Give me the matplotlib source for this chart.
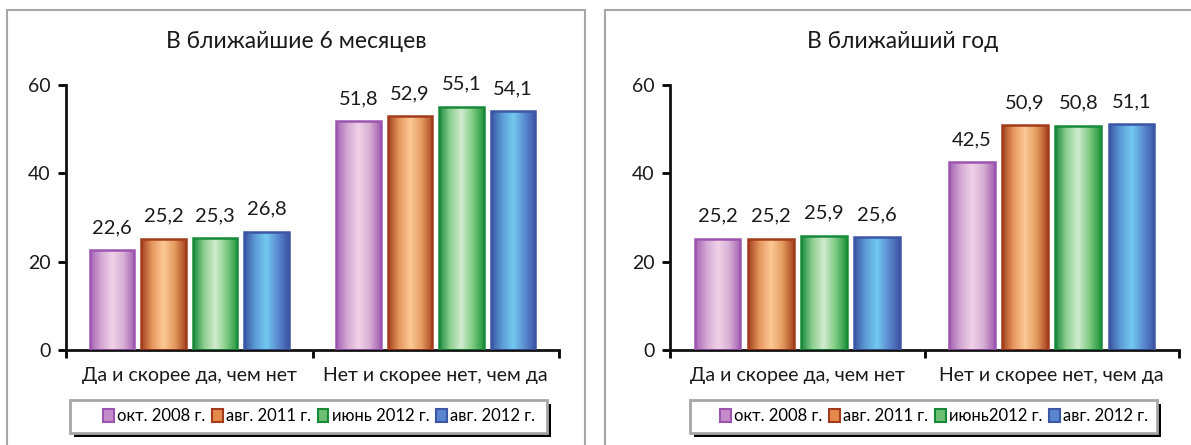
import numpy as np
import matplotlib
matplotlib.use("Agg")
import matplotlib.pyplot as plt
from matplotlib.colors import LinearSegmentedColormap
from matplotlib.patches import Rectangle

categories = ["Да и скорее да, чем нет", "Нет и скорее нет, чем да"]
titles = ["В ближайшие 6 месяцев", "В ближайший год"]
series_left = ["окт. 2008 г.", "авг. 2011 г.", "июнь 2012 г.", "авг. 2012 г."]
series_right = ["окт. 2008 г.", "авг. 2011 г.", "июнь2012 г.", "авг. 2012 г."]
values_6m = [[22.6, 51.8], [25.2, 52.9], [25.3, 55.1], [26.8, 54.1]]
values_1y = [[25.2, 42.5], [25.2, 50.9], [25.9, 50.8], [25.6, 51.1]]
yticks = [0, 20, 40, 60]

# edge colour + horizontal gradient stops (left -> right) for each series
edge_colors = ["#9b55b0", "#a23a1c", "#178a3a", "#3a56a5"]
grad_stops = [
    ["#a462b3", "#d4a8d3", "#f0d2e8", "#d8b0d4", "#a35fb1"],
    ["#a3411e", "#e7985f", "#fcc995", "#e59c60", "#a9461f"],
    ["#1b8a3c", "#8fd092", "#d2ecd0", "#7fcb83", "#23963f"],
    ["#3b55a3", "#5c9cd6", "#72caf1", "#5b8cd0", "#3d55a5"],
]
legend_face = ["#c48ccb", "#e58a4d", "#6cbf72", "#5a86cf"]

plt.rcParams["font.family"] = ["Lato", "Noto Sans", "DejaVu Sans"]

W, H = 1191, 445
fig = plt.figure(figsize=(W / 100, H / 100), dpi=100)


def fx(px):
    return px / W


def fy(py):
    return 1 - py / H


def panel(ax_rect, frame_rect, legend_box, legend_center, title, values, labels):
    # outer grey frame of the panel
    x0, y0, x1, y1 = frame_rect
    fig.patches.append(Rectangle((fx(x0), fy(y1)), fx(x1 - x0), (y1 - y0) / H,
                                 transform=fig.transFigure, fill=False,
                                 edgecolor="#a6a6a6", linewidth=1.5))
    fig.text(fx((x0 + x1) / 2), fy(42), title, fontsize=16.5, color="#1a1a1a",
             ha="center", va="center")
    ax = fig.add_axes(ax_rect)
    n = len(values)
    pitch = 0.209
    width = 0.18
    xs = np.arange(len(categories)) + 0.5
    for i in range(n):
        pos = xs + (i - (n - 1) / 2) * pitch
        bars = ax.bar(pos, values[i], width=width, facecolor="none",
                      edgecolor=edge_colors[i], linewidth=1.8, zorder=3)
        cmap = LinearSegmentedColormap.from_list("g%d" % i, grad_stops[i])
        grad = np.linspace(0, 1, 128)[None, :]
        for b, v in zip(bars, values[i]):
            im = ax.imshow(grad, cmap=cmap, aspect="auto", zorder=2,
                           extent=[b.get_x(), b.get_x() + b.get_width(), 0, v])
            im.set_clip_path(b)
            ax.annotate(("%.1f" % v).replace(".", ","), (b.get_x() + b.get_width() / 2, v),
                        xytext=(0, 10), textcoords="offset points", ha="center",
                        va="bottom", fontsize=14.5, color="#1a1a1a", clip_on=False)
    ax.set_xlim(0, len(categories))
    ax.set_ylim(0, 60)
    ax.set_yticks(yticks)
    ax.set_yticklabels([str(t) for t in yticks], fontsize=14, color="#1a1a1a")
    ax.set_xticks(xs)
    ax.set_xticklabels(categories, fontsize=14, color="#1a1a1a")
    ax.set_xticks(np.arange(len(categories) + 1), minor=True)
    ax.tick_params(axis="x", which="major", length=0, pad=12)
    ax.tick_params(axis="x", which="minor", length=6, width=2, direction="out")
    ax.tick_params(axis="y", length=6, width=2, direction="out", pad=5)
    for s in ["top", "right"]:
        ax.spines[s].set_visible(False)
    for s in ["left", "bottom"]:
        ax.spines[s].set_linewidth(2)
        ax.spines[s].set_color("#111111")

    # legend box with black shadow
    lx0, ly0, lx1, ly1 = legend_box
    fig.patches.append(Rectangle((fx(lx0 + 4), fy(ly1 + 4)), fx(lx1 - lx0), (ly1 - ly0) / H,
                                 transform=fig.transFigure, facecolor="black",
                                 edgecolor="none", zorder=5))
    fig.patches.append(Rectangle((fx(lx0), fy(ly1)), fx(lx1 - lx0), (ly1 - ly0) / H,
                                 transform=fig.transFigure, facecolor="white",
                                 edgecolor="#a6a6a6", linewidth=2, zorder=6))
    handles = [Rectangle((0, 0), 1, 1, facecolor=legend_face[i], edgecolor=edge_colors[i],
                         linewidth=1.5) for i in range(n)]
    leg = fig.legend(handles, labels, loc="center", ncol=n, frameon=False,
                     bbox_to_anchor=(fx(legend_center[0]), fy(legend_center[1])),
                     bbox_transform=fig.transFigure, fontsize=12,
                     handlelength=0.65, handleheight=0.85, handletextpad=0.2,
                     columnspacing=0.4, borderaxespad=0)
    leg.set_zorder(7)
    return ax


panel([fx(66), fy(350), fx(559 - 66), (350 - 85) / H], (7, 10, 585, 460),
      (70, 400, 547, 433), (319, 416), titles[0], values_6m, series_left)
panel([fx(670), fy(350), fx(1179 - 670), (350 - 85) / H], (605, 10, 1200, 460),
      (690, 400, 1157, 433), (934, 416), titles[1], values_1y, series_right)

fig.savefig("out.png", dpi=100)
